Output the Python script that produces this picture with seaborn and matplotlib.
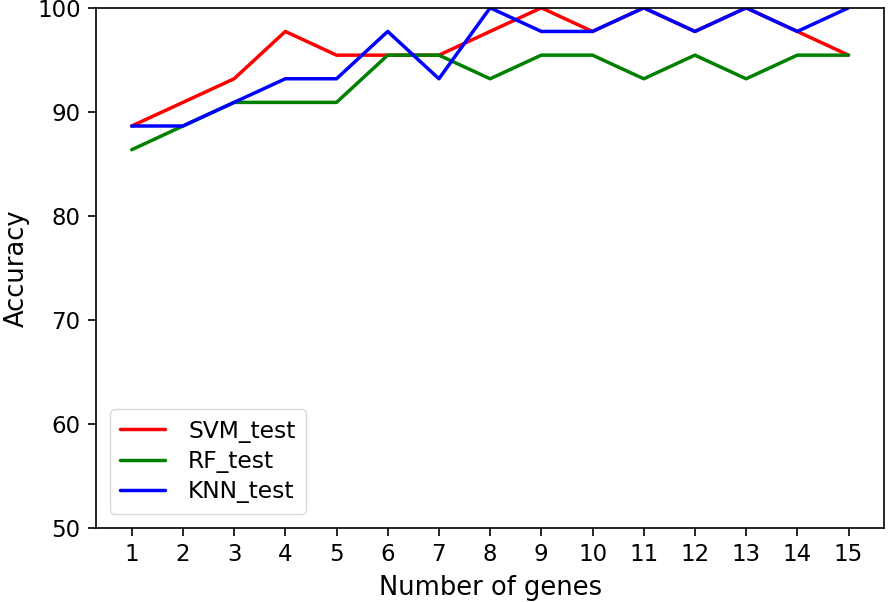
import matplotlib
matplotlib.use("Agg")
import matplotlib.pyplot as plt
import seaborn as sns
import pandas as pd

genes = list(range(1, 16))
svm_test = [88.64, 90.91, 93.18, 97.73, 95.45, 95.45, 95.45, 97.73, 100.0, 97.73,
            100.0, 97.73, 100.0, 97.73, 95.45]
rf_test = [86.36, 88.64, 90.91, 90.91, 90.91, 95.45, 95.45, 93.18, 95.45, 95.45,
           93.18, 95.45, 93.18, 95.45, 95.45]
knn_test = [88.64, 88.64, 90.91, 93.18, 93.18, 97.73, 93.18, 100.0, 97.73, 97.73,
            100.0, 97.73, 100.0, 97.73, 100.0]

df = pd.DataFrame({
    'genes': genes * 3,
    'acc': svm_test + rf_test + knn_test,
    'model': ['SVM_test'] * 15 + ['RF_test'] * 15 + ['KNN_test'] * 15,
})

sns.set_style("white")
plt.rcParams['font.family'] = ['DejaVu Sans']
plt.rcParams['text.color'] = 'black'
plt.rcParams['axes.labelcolor'] = 'black'
plt.rcParams['xtick.color'] = 'black'
plt.rcParams['ytick.color'] = 'black'

fig, ax = plt.subplots(figsize=(8.96, 6.02), dpi=100)
fig.subplots_adjust(left=0.107, right=0.987, bottom=0.123, top=0.987)

sns.lineplot(data=df, x='genes', y='acc', hue='model',
             palette={'SVM_test': 'red', 'RF_test': 'green', 'KNN_test': 'blue'},
             linewidth=2.5, ax=ax)

ax.set_ylim(50, 100)
ax.set_xticks(genes)
ax.tick_params(labelsize=16.5, length=6, width=1.2, pad=5, direction='out',
               bottom=True, left=True)
ax.set_xlabel('Number of genes', fontsize=18.5, labelpad=6)
ax.set_ylabel('Accuracy', fontsize=18.5, labelpad=5)
for s in ax.spines.values():
    s.set_color('black')
    s.set_linewidth(1.2)

leg = ax.legend(loc='lower left', fontsize=16.8, borderpad=0.45, handlelength=1.9,
                labelspacing=0.32, handletextpad=1.0, borderaxespad=0.6)
leg.get_frame().set_edgecolor('#d0d0d0')

plt.savefig('out.png', dpi=100)
plt.close()
